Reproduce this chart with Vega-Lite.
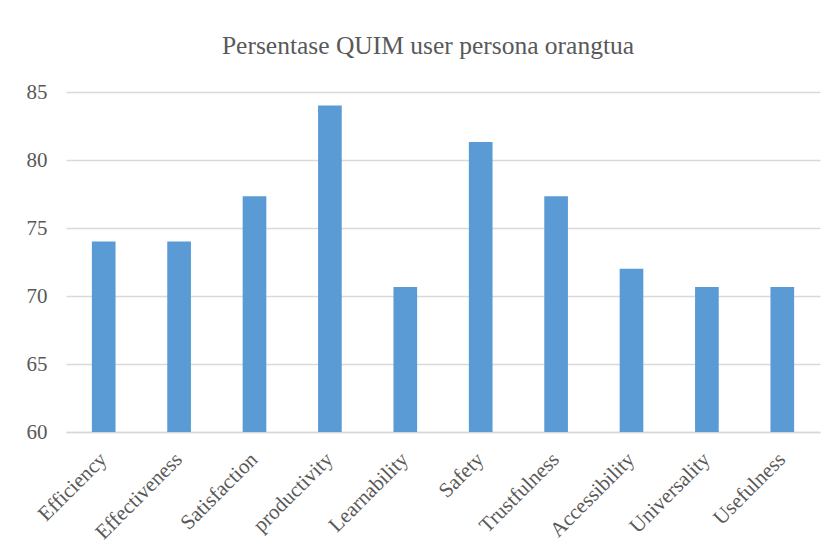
{
  "$schema": "https://vega.github.io/schema/vega-lite/v6.json",
  "autosize": "none",
  "width": 754,
  "height": 340,
  "padding": {"left": 66, "top": 92, "right": 17, "bottom": 122},
  "background": "white",
  "title": {
    "text": "Persentase QUIM user persona orangtua",
    "anchor": "middle",
    "frame": "group",
    "offset": 22,
    "dx": -15,
    "font": "Liberation Serif",
    "fontSize": 25.5,
    "fontWeight": "normal",
    "color": "#595959"
  },
  "data": {
    "values": [
      {"aspek": "Efficiency", "nilai": 74},
      {"aspek": "Effectiveness", "nilai": 74},
      {"aspek": "Satisfaction", "nilai": 77.33},
      {"aspek": "productivity", "nilai": 84},
      {"aspek": "Learnability", "nilai": 70.67},
      {"aspek": "Safety", "nilai": 81.33},
      {"aspek": "Trustfulness", "nilai": 77.33},
      {"aspek": "Accessibility", "nilai": 72},
      {"aspek": "Universality", "nilai": 70.67},
      {"aspek": "Usefulness", "nilai": 70.67}
    ]
  },
  "mark": {"type": "bar", "color": "#5B9BD5", "clip": true},
  "encoding": {
    "x": {
      "field": "aspek",
      "type": "nominal",
      "sort": null,
      "scale": {"paddingInner": 0.686, "paddingOuter": 0.343},
      "axis": {
        "title": null,
        "labelAngle": -45,
        "labelAlign": "right",
        "labelBaseline": "middle",
        "labelFont": "Liberation Serif",
        "labelFontSize": 21,
        "labelColor": "#595959",
        "labelPadding": 24,
        "ticks": false,
        "domainColor": "#d9d9d9",
        "domainWidth": 1.3,
        "grid": false
      }
    },
    "y": {
      "field": "nilai",
      "type": "quantitative",
      "scale": {"domain": [60, 85], "zero": false, "nice": false},
      "axis": {
        "title": null,
        "values": [60, 65, 70, 75, 80, 85],
        "labelFont": "Liberation Serif",
        "labelFontSize": 21,
        "labelColor": "#595959",
        "labelPadding": 19,
        "ticks": false,
        "domain": false,
        "gridColor": "#d9d9d9",
        "gridWidth": 1.3
      }
    }
  },
  "config": {"view": {"stroke": null}}
}
